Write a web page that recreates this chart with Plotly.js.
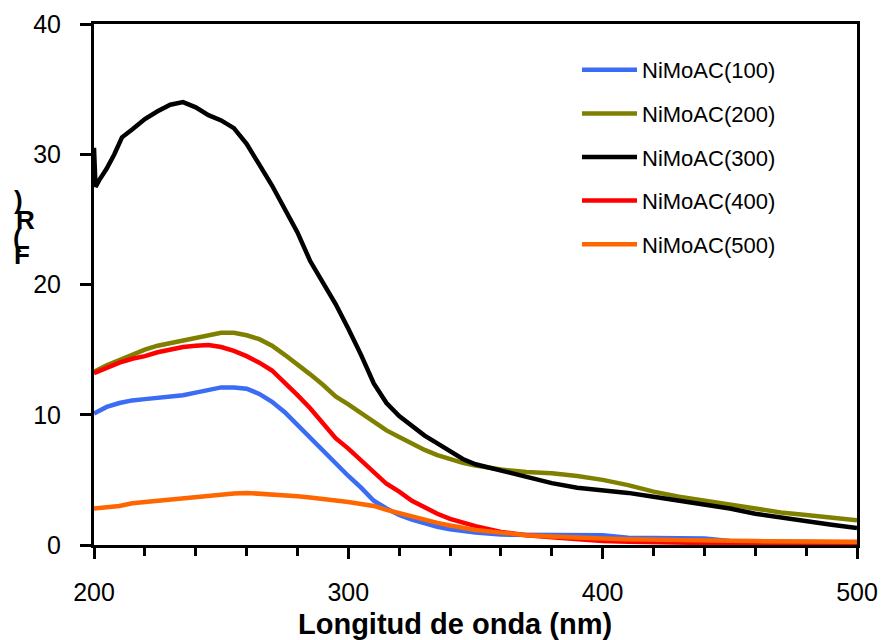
<!DOCTYPE html>
<html>
<head>
<meta charset="utf-8">
<script src="https://cdn.plot.ly/plotly-3.0.1.min.js"></script>
<style>html,body{margin:0;padding:0;background:#fff;}#chart{width:882px;height:640px;}</style>
</head>
<body>
<div id="chart"></div>
<script>
// Wavelength (nm) shared by most series
const wavelength = [200,205,210,215,220,225,230,235,240,245,250,255,260,265,270,275,280,285,290,295,300,305,310,315,320,325,330,335,340,345,350,360,370,380,390,400,410,420,430,440,450,460,470,480,490,500];

const seriesNames = ["NiMoAC(100)","NiMoAC(200)","NiMoAC(300)","NiMoAC(400)","NiMoAC(500)"];
const seriesColors = ["#3a6cf5","#808000","#000000","#ff0000","#ff6600"];

const fr100 = [10.1,10.6,10.9,11.1,11.2,11.3,11.4,11.5,11.7,11.9,12.1,12.1,12.0,11.6,11.0,10.2,9.2,8.2,7.2,6.3,5.3,4.4,3.4,2.8,2.3,1.95,1.65,1.4,1.2,1.05,0.95,0.8,0.78,0.78,0.76,0.75,0.55,0.53,0.52,0.5,0.3,0.28,0.25,0.22,0.2,0.2];
const fr200 = [13.3,13.8,14.2,14.6,15.0,15.3,15.5,15.7,15.9,16.1,16.3,16.3,16.1,15.8,15.3,14.6,13.9,13.1,12.3,11.4,10.8,10.1,9.4,8.8,8.3,7.8,7.3,6.9,6.6,6.3,6.1,5.8,5.6,5.5,5.3,5.0,4.6,4.1,3.7,3.4,3.1,2.8,2.5,2.3,2.1,1.9];
const wavelength300 = [200,200.6,202,205,208,211,215,220,225,230,235,240,245,250,255,260,265,270,275,280,285,290,295,300,305,310,315,320,325,330,335,340,345,350,360,370,380,390,400,410,420,430,440,450,460,470,480,490,500];
const fr300 = [30.5,27.5,28.0,28.9,30.0,31.3,31.9,32.7,33.3,33.8,34.0,33.6,33.0,32.6,32.0,30.8,29.2,27.6,25.8,24.0,21.8,20.2,18.5,16.6,14.6,12.4,10.9,9.9,9.1,8.4,7.8,7.2,6.6,6.2,5.7,5.2,4.75,4.4,4.2,4.0,3.7,3.4,3.1,2.8,2.4,2.1,1.8,1.55,1.3];
const fr400 = [13.2,13.6,14.0,14.3,14.5,14.8,15.0,15.2,15.3,15.35,15.2,14.9,14.5,14.0,13.4,12.5,11.5,10.5,9.4,8.2,7.4,6.5,5.5,4.7,4.1,3.4,2.9,2.4,2.0,1.7,1.45,1.0,0.75,0.6,0.45,0.3,0.25,0.2,0.2,0.15,0.12,0.12,0.12,0.1,0.1,0.1];
const fr500 = [2.8,2.9,3.0,3.2,3.3,3.4,3.5,3.6,3.7,3.8,3.85,3.95,4.0,3.95,3.9,3.85,3.75,3.65,3.55,3.45,3.3,3.15,3.0,2.7,2.45,2.2,1.9,1.7,1.5,1.3,1.15,0.95,0.75,0.65,0.55,0.5,0.45,0.4,0.38,0.35,0.33,0.3,0.3,0.28,0.27,0.25];

const xTickVals = [200,300,400,500];
const yTickVals = [0,10,20,30,40];
const xTitle = "Longitud de onda (nm)";
const yTitleChars = [")","R","(","F"];

const xs = [wavelength, wavelength, wavelength300, wavelength, wavelength];
const ys = [fr100, fr200, fr300, fr400, fr500];

const traces = seriesNames.map((n,i)=>({
  x: xs[i], y: ys[i], name: n, type:'scatter', mode:'lines',
  legendgroup: 'g'+i,
  line:{color: seriesColors[i], width:4.5}
}));

// pixel -> paper helpers for plot area (l=94, r=857, t=24, b=545)
const L=94, R=857, T=24, B=545;
const px = v => (v-L)/(R-L);
const py = v => (B-v)/(B-T);

const font = "Liberation Sans, Arial, sans-serif";
const yTitlePos = [[18,200],[25,220],[17,238],[22,255]];
const annotations = yTitleChars.map((c,i)=>({
  text: c, xref:'paper', yref:'paper', x: px(yTitlePos[i][0]), y: py(yTitlePos[i][1]),
  xanchor:'center', yanchor:'middle', showarrow:false,
  font:{family:font, size:26, color:'#000', weight:'bold'}
}));
annotations.push({
  text: '<b>'+xTitle+'</b>', xref:'paper', yref:'paper', x: px(455), y: py(624),
  xanchor:'center', yanchor:'middle', showarrow:false,
  font:{family:font, size:29, color:'#000'}
});

const layout = {
  width:882, height:640,
  margin:{l:L, r:882-R, t:T, b:640-B, pad:0},
  paper_bgcolor:'#fff', plot_bgcolor:'#fff',
  showlegend:true,
  legend:{x:px(577), y:py(49), xanchor:'left', yanchor:'top', bgcolor:'rgba(0,0,0,0)',
          font:{family:font, size:22, color:'#000'}, traceorder:'grouped', tracegroupgap:12, itemwidth:55},
  xaxis:{range:[200,500], tickvals:xTickVals, ticks:'outside', ticklen:11, tickwidth:3, tickcolor:'#000',
         showline:true, linewidth:3, linecolor:'#000', mirror:true, showgrid:false, zeroline:false,
         tickfont:{family:font, size:25, color:'#000'}, ticklabelstandoff:12,
         minor:{dtick:20, ticks:'outside', ticklen:8, tickwidth:3, tickcolor:'#000', showgrid:false}},
  yaxis:{range:[0,40], tickvals:yTickVals, ticks:'outside', ticklen:11, tickwidth:3, tickcolor:'#000',
         showline:true, linewidth:3, linecolor:'#000', mirror:true, showgrid:false, zeroline:false,
         tickfont:{family:font, size:25, color:'#000'}, ticklabelstandoff:14},
  annotations: annotations
};
Plotly.newPlot('chart', traces, layout, {staticPlot:true, displayModeBar:false});
</script>
</body>
</html>
